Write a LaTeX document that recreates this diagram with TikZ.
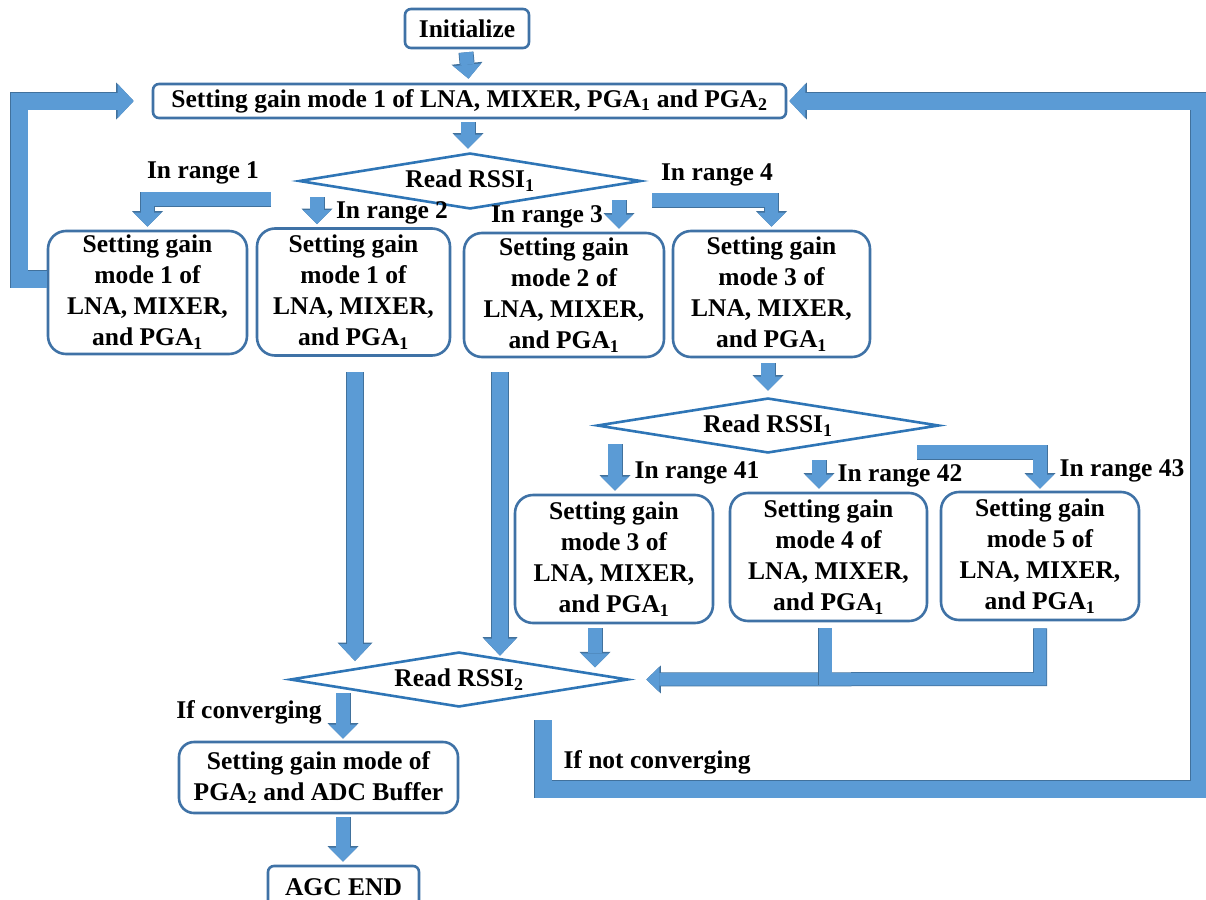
\documentclass[tikz,border=0pt]{standalone}
\usepackage{fontspec}
\setmainfont{Liberation Serif}
\usetikzlibrary{arrows.meta,shapes.geometric,calc}
\definecolor{abfill}{HTML}{5B9BD5}
\definecolor{abline}{HTML}{41719C}
\definecolor{boxline}{HTML}{3F72A6}
\definecolor{dline}{HTML}{2E75B6}
\tikzset{
  txt/.style={font=\fontsize{25.5}{31}\selectfont\bfseries, inner sep=0pt, text=black},
  rbox/.style={txt, draw=boxline, line width=2.6pt, rounded corners=18pt, align=center, fill=white},
  sbox/.style={rbox, rounded corners=6pt},
  dec/.style={txt, diamond, draw=dline, line width=2.6pt, aspect=6, fill=white},
  blk/.style={preaction={draw=abline, line width=15pt, -{Triangle[width=31pt,length=15.5pt,line width=0pt]}},
    draw=abfill, line width=13.5pt, line join=miter, -{Triangle[width=28pt,length=14pt,line width=0pt]}},
  blkwide/.style={preaction={draw=abline, line width=17.5pt, -{Triangle[width=35pt,length=18.5pt,line width=0pt]}},
    draw=abfill, line width=16pt, line join=miter, -{Triangle[width=32pt,length=17pt,line width=0pt]}},
  loopbar/.style={preaction={draw=abline, line width=18.5pt, line join=miter, -{Triangle[width=37pt,length=17.5pt,line width=0pt]}},
    draw=abfill, line width=17pt, line join=miter, -{Triangle[width=34pt,length=16pt,line width=0pt]}},
  mrg/.style={preaction={draw=abline, line width=14pt, line join=miter, -{Triangle[width=28pt,length=14.5pt,line width=0pt]}},
    draw=abfill, line width=12.5pt, line join=miter, -{Triangle[width=25pt,length=13pt,line width=0pt]}},
  plainbar/.style={preaction={draw=abline, line width=14.5pt}, draw=abfill, line width=13pt}
}
\begin{document}
\begin{tikzpicture}[x=1pt,y=-1pt]
\useasboundingbox (0,0) rectangle (1206,899);
\clip (0,0) rectangle (1206,899);

% nodes
\node[sbox, minimum width=124pt, minimum height=39pt] (init) at (467,28.5) {Initialize};
\node[sbox, minimum width=633pt, minimum height=34pt] (top) at (469.5,101) {Setting gain mode 1 of LNA, MIXER, PGA\textsubscript{1} and PGA\textsubscript{2}};
\node[dec, minimum width=342pt, minimum height=56pt] (d1) at (470,181) {Read RSSI\textsubscript{1}};

\node[rbox, minimum width=199pt, minimum height=123pt] (b1) at (147.5,292.5) {Setting gain\\mode 1 of\\LNA, MIXER,\\and PGA\textsubscript{1}};
\node[rbox, minimum width=193pt, minimum height=127pt] (b2) at (353.5,292) {Setting gain\\mode 1 of\\LNA, MIXER,\\and PGA\textsubscript{1}};
\node[rbox, minimum width=200pt, minimum height=124pt] (b3) at (564,295) {Setting gain\\mode 2 of\\LNA, MIXER,\\and PGA\textsubscript{1}};
\node[rbox, minimum width=197pt, minimum height=126pt] (b4) at (771.5,294) {Setting gain\\mode 3 of\\LNA, MIXER,\\and PGA\textsubscript{1}};

\node[dec, minimum width=342pt, minimum height=55pt] (d2) at (768,425.5) {Read RSSI\textsubscript{1}};

\node[rbox, minimum width=198pt, minimum height=128pt] (b41) at (614,559) {Setting gain\\mode 3 of\\LNA, MIXER,\\and PGA\textsubscript{1}};
\node[rbox, minimum width=197pt, minimum height=128pt] (b42) at (828.5,557) {Setting gain\\mode 4 of\\LNA, MIXER,\\and PGA\textsubscript{1}};
\node[rbox, minimum width=198pt, minimum height=128pt] (b43) at (1040,556) {Setting gain\\mode 5 of\\LNA, MIXER,\\and PGA\textsubscript{1}};

\node[dec, minimum width=338pt, minimum height=55pt] (d3) at (459,679.5) {Read RSSI\textsubscript{2}};

\node[rbox, rounded corners=15pt, minimum width=279pt, minimum height=71pt] (fin) at (318.5,777.5) {Setting gain mode of\\PGA\textsubscript{2} and ADC Buffer};
\node[sbox, minimum width=151pt, minimum height=42pt] (agc) at (343.5,887) {AGC END};

% labels
\node[txt] (l1) at (203,173) {In range 1};
\node[txt] (l2) at (392,213) {In range 2};
\node[txt] (l3) at (547,217) {In range 3};
\node[txt] (l4) at (717,175) {In range 4};
\node[txt] (l41) at (697,473) {In range 41};
\node[txt] (l42) at (900,476) {In range 42};
\node[txt] (l43) at (1122,471) {In range 43};
\node[txt] (lc) at (249,712) {If converging};
\node[txt] (lnc) at (657,762) {If not converging};

% free ends
\coordinate (r1s) at (271,199);
\coordinate (r2s) at (317,197);
\coordinate (r3s) at (619,200);
\coordinate (r4s) at (652,200);
\coordinate (r41s) at (615,444);
\coordinate (r42s) at (819,460);
\coordinate (r43s) at (917,452);
\coordinate (l2s) at (355,372);
\coordinate (l3s) at (500,372);
\coordinate (cvs) at (343,693);
\coordinate (nl) at (543,720);
\coordinate (nlb) at (543,789);
\coordinate (nrb) at (1199,789);
\coordinate (ll) at (19,279);
\coordinate (mj) at (1040,679);

% connectors
\draw[blk] ($(init.south)+(-1,3)$) -- ($(top.north)+(-1,-4)$);
\draw[blk] ($(top.south)+(-1.5,3)$) -- ($(d1.north)+(-2,-3)$);
\draw[blk] (r1s) -- (r1s -| b1.north) -- ($(b1.north)+(0,-3)$);
\draw[blk] (r2s) -- ($(r2s |- b2.north)+(0,-3)$);
\draw[blk] (r3s) -- ($(r3s |- b3.north)+(0,-3)$);
\draw[blk] (r4s) -- (r4s -| b4.north) -- ($(b4.north)+(0,-3)$);
\draw[blk] ($(b4.south)+(-3.5,5)$) -- ($(d2.north)+(0,-6)$);
\draw[blk] (r41s) -- ($(r41s |- b41.north)+(0,-3)$);
\draw[blk] (r42s) -- ($(r42s |- b42.north)+(0,-3)$);
\draw[blk] (r43s) -- (r43s -| b43.north) -- ($(b43.north)+(0,-2)$);
\draw[blkwide] (l2s) -- ($(l2s |- d3.west)+(0,-18.5)$);
\draw[blkwide] (l3s) -- ($(l3s |- d3.north)+(0,5)$);
\draw[blk] ($(b41.south)+(-19,4)$) -- ($(b41.south)+(-19,43)$);
\draw[mrg] ($(b43.south)+(0,7)$) -- (mj) -- ($(d3.east)+(17,0)$);
\draw[plainbar] ($(b42.south)+(-3.5,6)$) -- ($(b42.south |- mj)+(-3.5,6)$);
\draw[blk] (cvs) -- ($(cvs |- fin.north)+(0,-2)$);
\draw[blk] ($(fin.south)+(24.5,3)$) -- ($(agc.north)+(-0.5,-3)$);
\draw[loopbar] (nl) -- (nlb) -- (nrb) -- (nrb |- top.east) -- ($(top.east)+(2,0)$);
\draw[loopbar] ($(b1.west)+(0,-13.5)$) -- (ll) -- (ll |- top.west) -- ($(top.west)+(-18,0)$);
\end{tikzpicture}
\end{document}
